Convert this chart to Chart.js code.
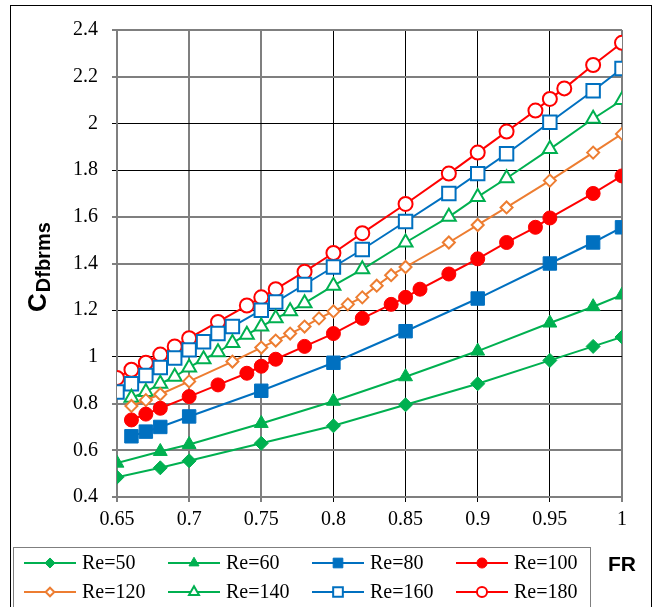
<!DOCTYPE html>
<html>
<head>
<meta charset="utf-8">
<script src="https://cdn.jsdelivr.net/npm/chart.js@4"></script>
<style>
  html, body { margin: 0; padding: 0; background: #fff; }
  #wrap { width: 662px; height: 607px; position: relative; }
</style>
</head>
<body>
<div id="wrap"><canvas id="chartCd"></canvas></div>
<script>
// FR values and C_Dfbrms values per Reynolds number
const frRe50 = [0.65, 0.68, 0.70, 0.75, 0.80, 0.85, 0.90, 0.95, 0.98, 1.00];
const cdRe50 = [0.485, 0.525, 0.555, 0.63, 0.705, 0.795, 0.885, 0.985, 1.045, 1.085];

const frRe60 = [0.65, 0.68, 0.70, 0.75, 0.80, 0.85, 0.90, 0.95, 0.98, 1.00];
const cdRe60 = [0.545, 0.595, 0.625, 0.715, 0.81, 0.915, 1.025, 1.145, 1.215, 1.265];

const frRe80 = [0.66, 0.67, 0.68, 0.70, 0.75, 0.80, 0.85, 0.90, 0.95, 0.98, 1.00];
const cdRe80 = [0.66, 0.68, 0.70, 0.745, 0.855, 0.975, 1.11, 1.25, 1.40, 1.49, 1.555];

const frRe100 = [0.66, 0.67, 0.68, 0.70, 0.72, 0.74, 0.75, 0.76, 0.78, 0.80, 0.82, 0.84, 0.85, 0.86, 0.88, 0.90, 0.92, 0.94, 0.95, 0.98, 1.00];
const cdRe100 = [0.73, 0.755, 0.78, 0.83, 0.88, 0.93, 0.96, 0.99, 1.045, 1.10, 1.165, 1.225, 1.255, 1.29, 1.355, 1.42, 1.49, 1.555, 1.595, 1.70, 1.775];

const frRe120 = [0.66, 0.67, 0.68, 0.70, 0.73, 0.75, 0.76, 0.77, 0.78, 0.79, 0.80, 0.81, 0.82, 0.83, 0.84, 0.85, 0.88, 0.90, 0.92, 0.95, 0.98, 1.00];
const cdRe120 = [0.79, 0.815, 0.84, 0.895, 0.98, 1.04, 1.07, 1.10, 1.13, 1.165, 1.195, 1.225, 1.255, 1.305, 1.35, 1.385, 1.49, 1.565, 1.64, 1.755, 1.875, 1.955];

const frRe140 = [0.66, 0.67, 0.68, 0.69, 0.70, 0.71, 0.72, 0.73, 0.74, 0.75, 0.76, 0.77, 0.78, 0.80, 0.82, 0.85, 0.88, 0.90, 0.92, 0.95, 0.98, 1.00];
const cdRe140 = [0.825, 0.85, 0.885, 0.915, 0.955, 0.99, 1.02, 1.06, 1.095, 1.13, 1.165, 1.195, 1.23, 1.305, 1.375, 1.49, 1.60, 1.685, 1.765, 1.89, 2.02, 2.10];

const frRe160 = [0.65, 0.66, 0.67, 0.68, 0.69, 0.70, 0.71, 0.72, 0.73, 0.75, 0.76, 0.78, 0.80, 0.82, 0.85, 0.88, 0.90, 0.92, 0.95, 0.98, 1.00];
const cdRe160 = [0.85, 0.885, 0.92, 0.955, 0.995, 1.03, 1.065, 1.10, 1.13, 1.20, 1.235, 1.31, 1.385, 1.46, 1.58, 1.70, 1.785, 1.87, 2.005, 2.14, 2.235];

const frRe180 = [0.65, 0.66, 0.67, 0.68, 0.69, 0.70, 0.72, 0.74, 0.75, 0.76, 0.78, 0.80, 0.82, 0.85, 0.88, 0.90, 0.92, 0.94, 0.95, 0.96, 0.98, 1.00];
const cdRe180 = [0.91, 0.945, 0.975, 1.01, 1.045, 1.08, 1.15, 1.22, 1.255, 1.29, 1.365, 1.445, 1.53, 1.655, 1.785, 1.875, 1.965, 2.055, 2.105, 2.15, 2.25, 2.345];

const seriesLabels = ['Re=50', 'Re=60', 'Re=80', 'Re=100', 'Re=120', 'Re=140', 'Re=160', 'Re=180'];

const GREEN = '#00B050';
const ORANGE = '#ED7D31';
const BLUE = '#0070C0';
const RED = '#FF0000';

const SERIF = '"Liberation Serif", "Times New Roman", serif';
const SANS = '"Liberation Sans", Arial, sans-serif';

function pts(xs, ys) {
    return xs.map((x, i) => ({ x: x, y: ys[i] }));
}

function serie(label, xs, ys, color, style, radius, filled) {
    return {
        label: label,
        data: pts(xs, ys),
        borderColor: color,
        borderWidth: 2,
        pointStyle: style,
        pointRadius: radius,
        pointHoverRadius: radius,
        pointBorderColor: color,
        pointBackgroundColor: filled ? color : '#ffffff',
        pointBorderWidth: filled ? 1 : 2,
        tension: 0
    };
}

const datasets = [
    serie(seriesLabels[0], frRe50, cdRe50, GREEN, 'rectRot', 7, true),
    serie(seriesLabels[1], frRe60, cdRe60, GREEN, 'triangle', 8, true),
    serie(seriesLabels[2], frRe80, cdRe80, BLUE, 'rect', 9.5, true),
    serie(seriesLabels[3], frRe100, cdRe100, RED, 'circle', 7, true),
    serie(seriesLabels[4], frRe120, cdRe120, ORANGE, 'rectRot', 6, false),
    serie(seriesLabels[5], frRe140, cdRe140, GREEN, 'triangle', 8, false),
    serie(seriesLabels[6], frRe160, cdRe160, BLUE, 'rect', 9.5, false),
    serie(seriesLabels[7], frRe180, cdRe180, RED, 'circle', 7, false)
];

// gridlines that look grey/heavy in the picture vs thin black ones
const greyX = [0.65, 0.7, 0.75, 1];
const greyY = [2.4, 2.2, 1.6, 1.4, 0.8, 0.6, 0.4];
const isIn = (arr, v) => arr.some(a => Math.abs(a - v) < 1e-6);

// outer frame + axis titles + boxed legend
const extras = {
    id: 'extras',
    beforeDraw(chart) {
        const ctx = chart.ctx;
        ctx.save();
        ctx.fillStyle = '#fff';
        ctx.fillRect(0, 0, chart.width, chart.height);
        ctx.strokeStyle = '#000';
        ctx.lineWidth = 1;
        ctx.strokeRect(10.5, 5.5, 641, 620);
        ctx.restore();
    },
    afterDraw(chart) {
        const ctx = chart.ctx;
        ctx.save();

        // y title: C with subscript Dfbrms, rotated
        ctx.translate(46, 312);
        ctx.rotate(-Math.PI / 2);
        ctx.fillStyle = '#000';
        ctx.textBaseline = 'alphabetic';
        ctx.textAlign = 'left';
        ctx.font = 'bold 26px ' + SANS;
        ctx.fillText('C', 0, 0);
        const wC = ctx.measureText('C').width;
        ctx.font = 'bold 20px ' + SANS;
        ctx.fillText('Dfbrms', wC + 1, 4);
        ctx.restore();

        // x title
        ctx.save();
        ctx.fillStyle = '#000';
        ctx.font = 'bold 21px ' + SANS;
        ctx.textAlign = 'center';
        ctx.textBaseline = 'middle';
        ctx.fillText('FR', 622, 565);

        // legend box
        ctx.strokeStyle = '#7f7f7f';
        ctx.lineWidth = 1;
        ctx.strokeRect(13.5, 547.5, 577, 80);
        ctx.font = '20px ' + SERIF;
        ctx.textAlign = 'left';
        ctx.textBaseline = 'middle';
        chart.data.datasets.forEach((ds, i) => {
            const col = i % 4, row = Math.floor(i / 4);
            const x0 = 24 + col * 144, y0 = 563 + row * 29;
            ctx.strokeStyle = ds.borderColor;
            ctx.lineWidth = 2;
            ctx.beginPath();
            ctx.moveTo(x0, y0);
            ctx.lineTo(x0 + 52, y0);
            ctx.stroke();
            ctx.fillStyle = ds.pointBackgroundColor;
            ctx.strokeStyle = ds.pointBorderColor;
            ctx.lineWidth = ds.pointBorderWidth;
            Chart.helpers.drawPoint(ctx, {
                pointStyle: ds.pointStyle,
                radius: ds.pointRadius * 0.72,
                borderWidth: ds.pointBorderWidth,
                rotation: 0
            }, x0 + 26, y0);
            ctx.fillStyle = '#000';
            ctx.fillText(ds.label, x0 + 58, y0 + 1);
        });
        ctx.restore();
    }
};

const ctx = document.getElementById('chartCd').getContext('2d');
new Chart(ctx, {
    type: 'line',
    data: { datasets: datasets },
    options: {
        responsive: true,
        maintainAspectRatio: false,
        animation: false,
        layout: { padding: { top: 30, right: 40, left: 0, bottom: 0 } },
        plugins: {
            legend: { display: false },
            tooltip: { enabled: false }
        },
        scales: {
            x: {
                type: 'linear',
                min: 0.65,
                max: 1,
                afterFit: (s) => { s.height = 110; },
                ticks: {
                    stepSize: 0.05,
                    padding: 6,
                    color: '#000',
                    font: { family: SERIF, size: 20 },
                    callback: (v) => String(+v.toFixed(2))
                },
                grid: {
                    tickLength: 5,
                    color: (c) => isIn(greyX, c.tick.value) ? '#7f7f7f' : '#000',
                    lineWidth: (c) => isIn(greyX, c.tick.value) ? 2 : 1
                },
                border: { color: '#7f7f7f', width: 2 }
            },
            y: {
                min: 0.4,
                max: 2.4,
                afterFit: (s) => { s.width = 117; },
                ticks: {
                    stepSize: 0.2,
                    padding: 14,
                    color: '#000',
                    font: { family: SERIF, size: 20 },
                    callback: (v) => String(+v.toFixed(2))
                },
                grid: {
                    tickLength: 5,
                    color: (c) => isIn(greyY, c.tick.value) ? '#7f7f7f' : '#000',
                    lineWidth: (c) => isIn(greyY, c.tick.value) ? 2 : 1
                },
                border: { color: '#7f7f7f', width: 2 }
            }
        }
    },
    plugins: [extras]
});
</script>
</body>
</html>
